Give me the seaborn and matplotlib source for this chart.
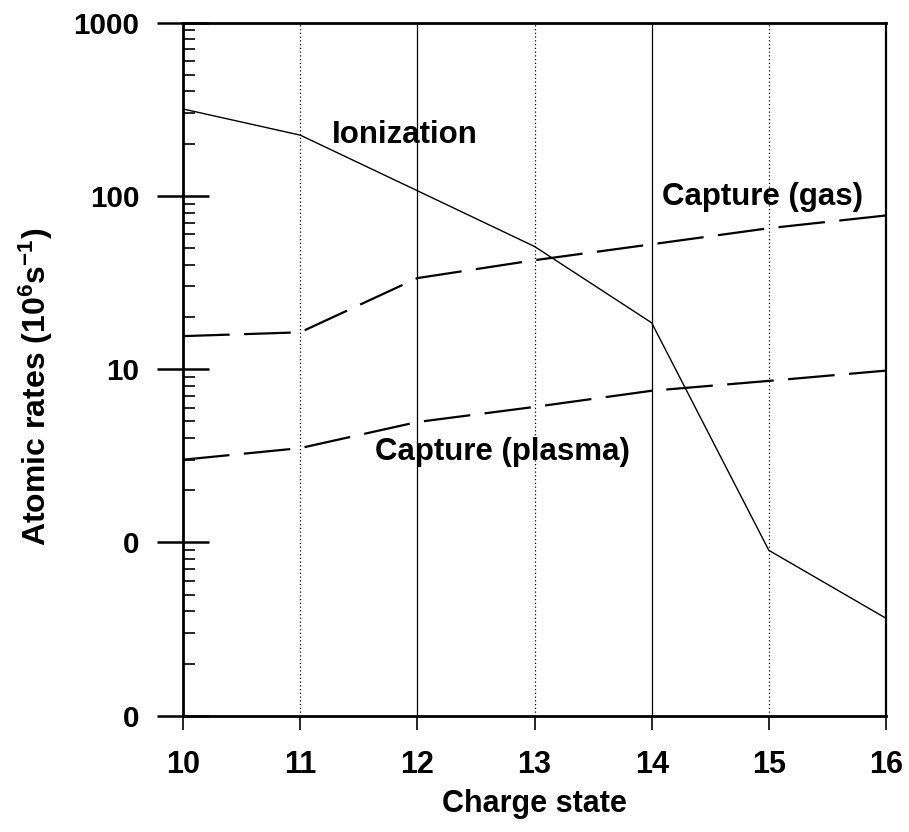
import matplotlib
matplotlib.use("Agg")
import matplotlib.pyplot as plt
import matplotlib.ticker as mticker
import numpy as np
import pandas as pd
import seaborn as sns

# ---- data ----
charge_state = [10, 11, 12, 13, 14, 15, 16]
ionization = [317, 224, 107, 51, 18.5, 0.90, 0.365]
capture_gas = [15.5, 16.3, 33.5, 42.5, 52.5, 65, 77]
capture_plasma = [3.0, 3.5, 4.95, 6.05, 7.5, 8.55, 9.8]

y_tick_values = [0.1, 1, 10, 100, 1000]
y_tick_labels = ["0", "0", "10", "100", "1000"]
x_tick_values = [10, 11, 12, 13, 14, 15, 16]

series_labels = ["Ionization", "Capture (gas)", "Capture (plasma)"]

sns.set_theme(style="white")
plt.rcParams["font.family"] = ["Liberation Sans", "DejaVu Sans"]
plt.rcParams["font.weight"] = "bold"
plt.rcParams["mathtext.fontset"] = "custom"
plt.rcParams["mathtext.rm"] = "Liberation Sans:bold"
plt.rcParams["mathtext.bf"] = "Liberation Sans:bold"
plt.rcParams["mathtext.default"] = "bf"
for key in ["text.color", "axes.labelcolor", "xtick.color", "ytick.color", "axes.edgecolor"]:
    plt.rcParams[key] = "black"

df = pd.DataFrame({
    "Charge state": charge_state * 3,
    "rate": ionization + capture_gas + capture_plasma,
    "series": [series_labels[0]] * 7 + [series_labels[1]] * 7 + [series_labels[2]] * 7,
})

fig = plt.figure(figsize=(9.09, 8.32), dpi=100)
ax = fig.add_axes([183 / 909, (832 - 715.7) / 832, (886 - 183) / 909, (715.7 - 22.5) / 832])

sns.lineplot(data=df[df.series == series_labels[0]], x="Charge state", y="rate",
             color="black", linewidth=1.0, ax=ax, legend=False)
for s in series_labels[1:]:
    sns.lineplot(data=df[df.series == s], x="Charge state", y="rate",
                 color="black", linewidth=1.6, linestyle=(0, (21.0, 6.5)),
                 ax=ax, legend=False)

ax.set_yscale("log")
ax.set_xlim(10, 16)
ax.set_ylim(0.1, 1000)

ax.yaxis.set_major_locator(mticker.FixedLocator(y_tick_values))
ax.yaxis.set_major_formatter(mticker.FixedFormatter(y_tick_labels))
ax.yaxis.set_minor_locator(mticker.LogLocator(base=10, subs=np.arange(2, 10)))
ax.yaxis.set_minor_formatter(mticker.NullFormatter())
ax.set_xticks(x_tick_values)
ax.set_xticklabels([str(v) for v in x_tick_values])

ax.tick_params(axis="y", which="major", direction="inout", length=37, width=1.8,
               pad=13.0, labelsize=21.3, left=True, color="black", labelcolor="black")
ax.tick_params(axis="y", which="minor", direction="in", length=8.5, width=1.2,
               left=True, color="black")
ax.tick_params(axis="x", which="major", direction="out", length=10, width=1.2,
               pad=15, labelsize=22, bottom=True, color="black", labelcolor="black")
for lab in ax.get_xticklabels() + ax.get_yticklabels():
    lab.set_fontweight("bold")

# vertical grid lines: solid at even, dotted at odd
ax.grid(False)
for xv in x_tick_values[1:-1]:
    if xv % 2 == 0:
        ax.axvline(xv, color="black", linewidth=0.9, zorder=0)
    else:
        ax.axvline(xv, color="black", linewidth=0.9, linestyle=(0, (1, 2)), zorder=0)

for side in ["left", "top", "bottom"]:
    ax.spines[side].set_linewidth(2.0)
    ax.spines[side].set_color("black")
ax.spines["right"].set_linewidth(1.6)
ax.spines["right"].set_color("black")

ax.set_xlabel("Charge state", fontsize=22, fontweight="bold", labelpad=6, color="black")
ax.set_ylabel("Atomic rates (10$^{6}$s$^{-1}$)", fontsize=23, fontweight="bold",
              labelpad=13, color="black")
ax.yaxis.label.set_y(0.474)

ax.text(11.27, 224, series_labels[0], fontsize=22.5, fontweight="bold", va="center", ha="left")
ax.text(14.09, 98, series_labels[1], fontsize=22.5, fontweight="bold", va="center", ha="left")
ax.text(11.64, 3.32, series_labels[2], fontsize=22.5, fontweight="bold", va="center", ha="left")

fig.savefig("out.png", dpi=100, facecolor="white")
